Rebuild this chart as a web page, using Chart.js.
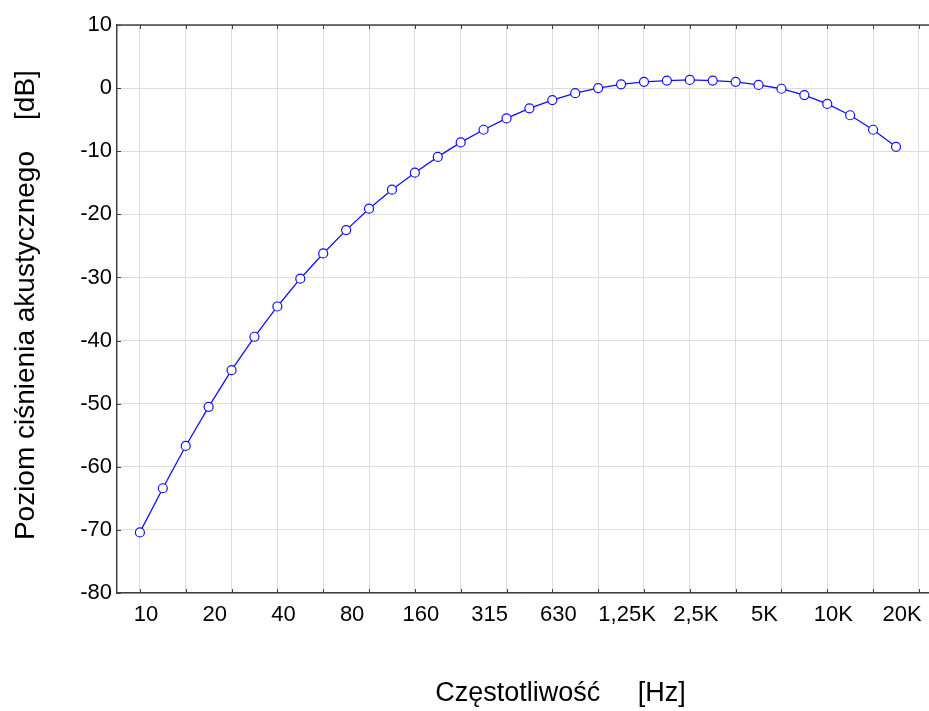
<!DOCTYPE html>
<html>
<head>
<meta charset="utf-8">
<script src="https://cdn.jsdelivr.net/npm/chart.js@4"></script>
<style>
    body { margin: 0; background: #fff; }
    #wrap { width: 929px; height: 711px; }
</style>
</head>
<body>
<div id="wrap"><canvas id="aChart"></canvas></div>
<script>
// 1/3 octave bands, Hz
const freqs = [10, 12.5, 16, 20, 25, 31.5, 40, 50, 63, 80, 100, 125, 160, 200, 250, 315, 400,
    500, 630, 800, 1000, 1250, 1600, 2000, 2500, 3150, 4000, 5000, 6300, 8000, 10000, 12500, 16000, 20000];
// A-weighting, dB
const levels = [-70.4, -63.4, -56.7, -50.5, -44.7, -39.4, -34.6, -30.2, -26.2, -22.5, -19.1, -16.1, -13.4,
    -10.9, -8.6, -6.6, -4.8, -3.2, -1.9, -0.8, 0, 0.6, 1.0, 1.2, 1.3, 1.2, 1.0, 0.5, -0.1, -1.1, -2.5, -4.3, -6.6, -9.3];
// labels shown on every 3rd band
const xTickLabels = ['10', '20', '40', '80', '160', '315', '630', '1,25K', '2,5K', '5K', '10K', '20K'];
const yTicks = [-80, -70, -60, -50, -40, -30, -20, -10, 0, 10];

const axisColor = '#404040';
const gridColor = '#dcdcdc';

Chart.defaults.font.family = "'Liberation Sans', Arial, sans-serif";
Chart.defaults.color = '#000';

// top border + inner tick marks
const framePlugin = {
    id: 'frame',
    afterDraw(chart) {
        const { ctx, chartArea: a, scales } = chart;
        ctx.save();
        ctx.strokeStyle = axisColor;
        ctx.lineWidth = 1.5;
        ctx.beginPath();
        ctx.moveTo(a.left, a.top);
        ctx.lineTo(a.right, a.top);
        ctx.stroke();
        ctx.lineWidth = 1;
        ctx.beginPath();
        scales.x.ticks.forEach(t => {
            if (t.value % 2 !== 0) return;
            const px = Math.round(scales.x.getPixelForValue(t.value)) + 0.5;
            ctx.moveTo(px, a.top);
            ctx.lineTo(px, a.top + 4);
            ctx.moveTo(px, a.bottom);
            ctx.lineTo(px, a.bottom - 4);
        });
        scales.y.ticks.forEach(t => {
            const py = Math.round(scales.y.getPixelForValue(t.value)) + 0.5;
            ctx.moveTo(a.left, py);
            ctx.lineTo(a.left + 4, py);
        });
        ctx.stroke();
        ctx.restore();
    }
};

const ctx = document.getElementById('aChart').getContext('2d');
new Chart(ctx, {
    type: 'line',
    data: {
        datasets: [{
            data: levels.map((v, i) => ({ x: i, y: v })),
            borderColor: '#1010ff',
            borderWidth: 1.3,
            pointRadius: 4.5,
            pointBorderWidth: 1.2,
            pointBorderColor: '#1010ff',
            pointBackgroundColor: '#fff',
            fill: false,
            tension: 0
        }]
    },
    options: {
        responsive: true,
        maintainAspectRatio: false,
        animation: false,
        layout: { autoPadding: false, padding: { top: 25, right: 0, left: 0, bottom: 0 } },
        plugins: {
            legend: { display: false },
            tooltip: { enabled: false }
        },
        scales: {
            x: {
                type: 'linear',
                min: -1,
                max: 34.44,
                afterBuildTicks(scale) {
                    const t = freqs.map((f, i) => ({ value: i }));
                    t.push({ value: freqs.length });
                    scale.ticks = t;
                },
                afterFit(scale) { scale.height = 118; },
                grid: {
                    color: c => (c.tick && c.tick.value % 2 === 0) ? gridColor : 'rgba(0,0,0,0)',
                    lineWidth: 1,
                    drawTicks: false
                },
                border: { display: true, color: axisColor, width: 1.5 },
                ticks: {
                    autoSkip: false,
                    maxRotation: 0,
                    padding: 9,
                    labelOffset: 6,
                    font: { size: 22 },
                    callback: v => (v % 3 === 0 && v / 3 < xTickLabels.length) ? xTickLabels[v / 3] : ''
                },
                title: {
                    display: true,
                    text: '          Częstotliwość     [Hz]',
                    font: { size: 27 },
                    padding: { top: 0, bottom: 1 }
                }
            },
            y: {
                min: -80,
                max: 10,
                afterBuildTicks(scale) {
                    scale.ticks = yTicks.map(v => ({ value: v }));
                },
                afterFit(scale) { scale.width = 117; },
                grid: { color: gridColor, lineWidth: 1, drawTicks: false },
                border: { display: true, color: axisColor, width: 1.5 },
                ticks: {
                    padding: 5,
                    font: { size: 22 }
                },
                title: {
                    display: true,
                    text: ' Poziom ciśnienia akustycznego    [dB]',
                    font: { size: 28 },
                    padding: { top: 9, bottom: 0 }
                }
            }
        }
    },
    plugins: [framePlugin]
});
</script>
</body>
</html>
